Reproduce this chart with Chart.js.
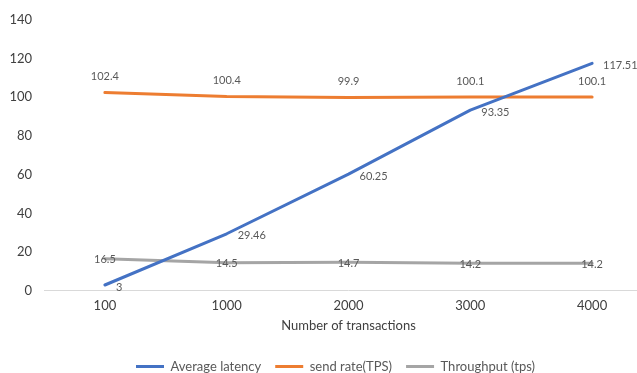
<!DOCTYPE html>
<html>
<head>
<meta charset="utf-8">
<script src="https://cdn.jsdelivr.net/npm/chart.js@4"></script>
<style>
  html, body { margin: 0; padding: 0; background: #fff; }
  #wrap { width: 637px; height: 373px; overflow: hidden; position: relative; }
  #chart { position: absolute; left: 0; top: 0; }
</style>
</head>
<body>
<div id="wrap"><canvas id="chart" width="672" height="373"></canvas></div>
<script>
var txCounts = ['100', '1000', '2000', '3000', '4000'];
var avgLatency = [3, 29.46, 60.25, 93.35, 117.51];
var sendRate = [102.4, 100.4, 99.9, 100.1, 100.1];
var throughput = [16.5, 14.5, 14.7, 14.2, 14.2];
var yTicks = [0, 20, 40, 60, 80, 100, 120, 140];

Chart.defaults.font.family = 'Lato, "Noto Sans", sans-serif';

// value labels next to each point, placed per series
var pointLabels = {
  id: 'pointLabels',
  afterDatasetsDraw: function(chart) {
    var ctx = chart.ctx;
    ctx.save();
    ctx.font = '11px Lato, "Noto Sans", sans-serif';
    ctx.fillStyle = '#595959';
    ctx.textBaseline = 'middle';
    chart.data.datasets.forEach(function(ds, i) {
      var meta = chart.getDatasetMeta(i);
      meta.data.forEach(function(pt, j) {
        var txt = String(ds.data[j]);
        if (ds.labelPos === 'right') {
          ctx.textAlign = 'left';
          ctx.fillText(txt, pt.x + 11, pt.y + 2);
        } else if (ds.labelPos === 'above') {
          ctx.textAlign = 'center';
          ctx.fillText(txt, pt.x, pt.y - 16);
        } else {
          ctx.textAlign = 'center';
          ctx.fillText(txt, pt.x, pt.y + 1);
        }
      });
    });
    ctx.restore();
  }
};

// push the legend row a bit to the right of the plot centre
var legendShift = {
  id: 'legendShift',
  afterLayout: function(chart) {
    if (chart.legend) {
      chart.legend.left += 9;
      chart.legend.right += 9;
    }
  }
};

function lineSet(label, data, color, pos) {
  return {
    label: label,
    data: data,
    borderColor: color,
    backgroundColor: color,
    borderWidth: 3,
    borderCapStyle: 'round',
    borderJoinStyle: 'round',
    pointRadius: 0,
    pointHoverRadius: 0,
    tension: 0,
    labelPos: pos
  };
}

new Chart(document.getElementById('chart'), {
  type: 'line',
  data: {
    labels: txCounts,
    datasets: [
      lineSet('Average latency', avgLatency, '#4472C4', 'right'),
      lineSet('send rate(TPS)', sendRate, '#ED7D31', 'above'),
      lineSet('Throughput (tps)', throughput, '#A5A5A5', 'center')
    ]
  },
  options: {
    responsive: false,
    animation: false,
    layout: { padding: { top: 10, right: 19, left: 0, bottom: -10 } },
    plugins: {
      tooltip: { enabled: false },
      legend: {
        position: 'bottom',
        labels: {
          color: '#595959',
          font: { size: 13 },
          boxWidth: 28,
          boxHeight: 3,
          padding: 14,
          generateLabels: function(chart) {
            var items = Chart.defaults.plugins.legend.labels.generateLabels(chart);
            items.forEach(function(it) { it.lineWidth = 0; });
            return items;
          }
        }
      }
    },
    scales: {
      x: {
        offset: true,
        grid: { display: false, drawTicks: false },
        border: { display: false },
        ticks: { color: '#404040', font: { size: 13 }, padding: 7 },
        title: {
          display: true,
          text: 'Number of transactions',
          color: '#404040',
          font: { size: 13 },
          padding: { top: -2, bottom: 12 }
        }
      },
      y: {
        min: 0,
        max: 140,
        afterBuildTicks: function(scale) {
          scale.ticks = yTicks.map(function(v) { return { value: v }; });
        },
        afterFit: function(scale) { scale.width = 44; },
        grid: {
          drawTicks: false,
          color: function(c) { return c.tick && c.tick.value === 0 ? '#D9D9D9' : 'rgba(0,0,0,0)'; }
        },
        border: { display: false },
        ticks: { color: '#404040', font: { size: 13 }, padding: 12 }
      }
    }
  },
  plugins: [pointLabels, legendShift]
});
</script>
</body>
</html>
